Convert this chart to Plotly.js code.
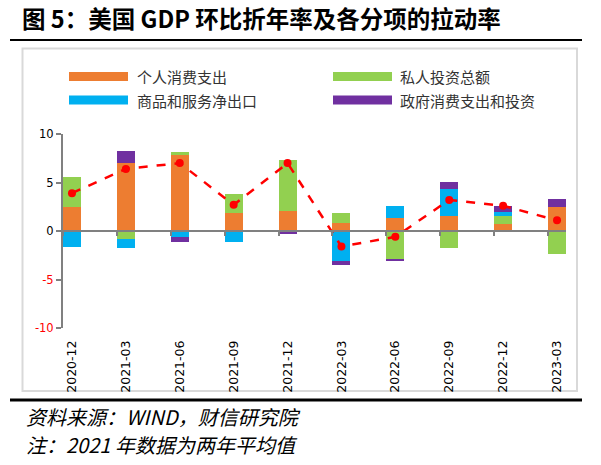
<!DOCTYPE html>
<html>
<head>
<meta charset="utf-8">
<script src="https://cdn.plot.ly/plotly-3.0.1.min.js"></script>
<style>html,body{margin:0;padding:0;background:#fff;}#chart{width:601px;height:465px;}</style>
</head>
<body>
<div id="chart"></div>
<script>
// ---- data ----
const categories = ["2020-12","2021-03","2021-06","2021-09","2021-12","2022-03","2022-06","2022-09","2022-12","2023-03"];
const seriesNames = ["个人消费支出","私人投资总额","商品和服务净出口","政府消费支出和投资"];
const consumption = [2.5, 7.0, 7.8, 1.9, 2.1, 0.86, 1.38, 1.52, 0.69, 2.45];
const investment  = [3.1, -0.8, 0.3, 1.9, 5.2, 1.03, -2.86, -1.76, 0.83, -2.32];
const netExports  = [-1.7, -1.0, -0.6, -1.1, 0.0, -3.1, 1.17, 2.86, 0.45, 0.07];
const government  = [0.0, 1.2, -0.5, 0.0, -0.3, -0.4, -0.24, 0.65, 0.58, 0.81];
const gdp         = [3.9, 6.4, 7.0, 2.7, 7.0, -1.6, -0.6, 3.2, 2.6, 1.1];
const yTicks = [-10, -5, 0, 5, 10];
const footnotes = ["资料来源：<i>WIND</i>，财信研究院", "注：2021 年数据为两年平均值"];
const titleText = "图 5：美国 GDP 环比折年率及各分项的拉动率";

// ---- styling ----
const colors = ["#ED7D31", "#92D050", "#00B0F0", "#7030A0"];
const W = 601, H = 465;
const M = {l: 63, r: 35, t: 134, b: 137};
const PW = W - M.l - M.r, PH = H - M.t - M.b;
const px2x = p => (p - M.l) / PW;
const py2y = p => (H - M.b - p) / PH;

const idx = categories.map((c, i) => i);
const barW = 1 / 3;
const values = [consumption, investment, netExports, government];

const traces = values.map((v, k) => ({
  type: "bar",
  x: idx,
  y: v,
  name: seriesNames[k],
  width: barW,
  offset: 0,
  marker: {color: colors[k], line: {width: 0}},
  showlegend: false,
  hoverinfo: "skip"
}));

traces.push({
  type: "scatter",
  mode: "lines+markers",
  x: idx.map(i => i + barW / 2),
  y: gdp,
  xaxis: "x2",
  yaxis: "y",
  name: "GDP",
  line: {color: "#FF0000", width: 2.5, dash: "dash"},
  marker: {color: "#FF0000", size: 8},
  showlegend: false,
  hoverinfo: "skip",
  cliponaxis: false
});

const xr = [0, categories.length - 1 + barW];

// legend drawn manually
const shapes = [];
const annotations = [];
const legPos = [
  {sx: 69, ex: 128, tx: 135, y: 76.5},
  {sx: 333, ex: 392, tx: 398, y: 76.5},
  {sx: 69, ex: 128, tx: 135, y: 100},
  {sx: 333, ex: 392, tx: 398, y: 100}
];
seriesNames.forEach((n, k) => {
  const p = legPos[k];
  shapes.push({type: "rect", xref: "paper", yref: "paper",
    x0: px2x(p.sx), x1: px2x(p.ex), y0: py2y(p.y + 4.5), y1: py2y(p.y - 4.5),
    fillcolor: colors[k], line: {width: 0}, layer: "above"});
  annotations.push({xref: "paper", yref: "paper", x: px2x(p.tx), y: py2y(p.y),
    xanchor: "left", yanchor: "middle", showarrow: false, text: n,
    font: {family: "Noto Sans CJK SC", size: 15, color: "#333333"}});
});

// frame and rules
shapes.push({type: "rect", xref: "paper", yref: "paper",
  x0: px2x(22.5), x1: px2x(577), y0: py2y(391), y1: py2y(48.5),
  line: {color: "#D9D9D9", width: 2}, fillcolor: "rgba(0,0,0,0)", layer: "below"});
shapes.push({type: "line", xref: "paper", yref: "paper",
  x0: px2x(10), x1: px2x(582), y0: py2y(40), y1: py2y(40),
  line: {color: "#000000", width: 2}});
shapes.push({type: "line", xref: "paper", yref: "paper",
  x0: px2x(10), x1: px2x(582), y0: py2y(400), y1: py2y(400),
  line: {color: "#000000", width: 3}});

footnotes.forEach((t, k) => {
  annotations.push({xref: "paper", yref: "paper", x: px2x(24), y: py2y(416 + k * 28),
    xanchor: "left", yanchor: "middle", showarrow: false, text: t,
    font: {family: "Noto Sans CJK SC", size: 20, color: "#000000", style: "italic"}});
});

const layout = {
  width: W, height: H,
  margin: M,
  paper_bgcolor: "#ffffff",
  plot_bgcolor: "rgba(0,0,0,0)",
  barmode: "relative",
  bargap: 0,
  showlegend: false,
  title: {
    text: titleText,
    xref: "container", yref: "container",
    x: 22 / W, xanchor: "left",
    y: 1 - 20 / H, yanchor: "middle",
    font: {family: "Noto Sans CJK SC", size: 23.5, color: "#000000", weight: "bold"}
  },
  xaxis: {
    range: xr,
    tickmode: "array",
    tickvals: idx.map(i => i + barW / 2),
    ticktext: categories,
    tickangle: -90,
    ticks: "",
    showline: false,
    showgrid: false,
    zeroline: false,
    ticklabelstandoff: 9,
    tickfont: {family: "DejaVu Sans", size: 12.5, color: "#000000"}
  },
  xaxis2: {
    overlaying: "x",
    anchor: "free",
    position: 0.5,
    range: xr,
    tickmode: "array",
    tickvals: idx,
    showticklabels: false,
    ticks: "outside",
    ticklen: 4,
    tickwidth: 2,
    tickcolor: "#808080",
    showline: true,
    linecolor: "#808080",
    linewidth: 2,
    showgrid: false,
    zeroline: false
  },
  yaxis: {
    range: [-10, 10],
    tickmode: "array",
    tickvals: yTicks,
    ticktext: yTicks.map(v => v < 0 ? '<span style="color:#FF0000">' + v + '</span>' : String(v)),
    ticks: "outside",
    ticklen: 5,
    tickwidth: 2,
    tickcolor: "#808080",
    showline: true,
    linecolor: "#808080",
    linewidth: 2,
    showgrid: false,
    zeroline: false,
    tickfont: {family: "DejaVu Sans", size: 11.5, color: "#000000"}
  },
  shapes: shapes,
  annotations: annotations
};

Plotly.newPlot("chart", traces, layout, {displayModeBar: false, staticPlot: true});
</script>
</body>
</html>
